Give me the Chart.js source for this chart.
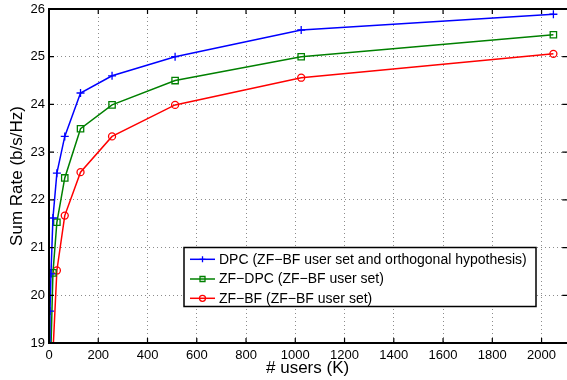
<!DOCTYPE html>
<html>
<head>
<meta charset="utf-8">
<script src="https://cdn.jsdelivr.net/npm/chart.js@4/dist/chart.umd.min.js"></script>
<style>
html,body{margin:0;padding:0;background:#fff;overflow:hidden;}
#wrap{position:relative;width:567px;height:380px;overflow:hidden;}
#rateChart{position:absolute;left:0;top:0;}
</style>
</head>
<body>
<div id="wrap"><canvas id="rateChart" width="572" height="380"></canvas></div>
<script>
// number of users K
var users=[2,4,8,16,32,64,128,256,512,1024,2048];
// sum rate (b/s/Hz) per scheme
var dpcRate=[18.6,19.67,20.45,21.62,22.56,23.33,24.24,24.6,25.0,25.56,25.89];
var zfdpcRate=[17.4,18.3,18.9,20.47,21.53,22.46,23.49,23.99,24.5,25.0,25.46];
var zfbfRate=[16.2,17.2,18.2,18.8,20.52,21.67,22.58,23.33,23.99,24.56,25.06];
var seriesNames=['DPC (ZF\u2212BF user set and orthogonal hypothesis)','ZF\u2212DPC (ZF\u2212BF user set)','ZF\u2212BF (ZF\u2212BF user set)'];
var xTicks=[0,200,400,600,800,1000,1200,1400,1600,1800,2000];
var yTicks=[19,20,21,22,23,24,25,26];

var FONT='"Liberation Sans", Arial, Helvetica, sans-serif';
Chart.defaults.font.family=FONT;
Chart.defaults.color='#000';

function toPoints(vals){
    return users.map(function(k,i){ return {x:k,y:vals[i]}; });
}

function makeSet(label,vals,color,style,radius){
    return {
        label:label,
        data:toPoints(vals),
        borderColor:color,
        backgroundColor:'rgba(0,0,0,0)',
        borderWidth:1.5,
        pointStyle:style,
        pointRadius:radius,
        pointBorderWidth:1.3,
        pointBorderColor:color,
        pointBackgroundColor:'rgba(0,0,0,0)',
        showLine:true,
        tension:0
    };
}

// axes box with inward ticks, like the matlab figure
var boxPlugin={
    id:'boxPlugin',
    afterDatasetsDraw:function(chart){
        var ctx=chart.ctx, a=chart.chartArea;
        var xs=chart.scales.x, ys=chart.scales.y;
        ctx.save();
        ctx.strokeStyle='#000';
        ctx.lineWidth=1.2;
        ctx.beginPath();
        xTicks.forEach(function(v){
            var px=xs.getPixelForValue(v);
            ctx.moveTo(px,a.bottom); ctx.lineTo(px,a.bottom-5);
            ctx.moveTo(px,a.top); ctx.lineTo(px,a.top+5);
        });
        yTicks.forEach(function(v){
            var py=ys.getPixelForValue(v);
            ctx.moveTo(a.left,py); ctx.lineTo(a.left+5,py);
            ctx.moveTo(a.right+1,py); ctx.lineTo(a.right-4,py);
        });
        ctx.stroke();
        // right side of the box sits just past the visible edge
        ctx.lineWidth=2;
        ctx.strokeRect(a.left,a.top,a.right-a.left+2,a.bottom-a.top);
        ctx.restore();
    },
    afterDraw:function(chart){
        // legend box
        var ctx=chart.ctx;
        var bx=184,by=247.5,bw=352,bh=59;
        ctx.save();
        ctx.fillStyle='#fff';
        ctx.fillRect(bx,by,bw,bh);
        ctx.strokeStyle='#000';
        ctx.lineWidth=1.5;
        ctx.strokeRect(bx,by,bw,bh);
        var rows=[259.3,279,298.3];
        ctx.font='14px '+FONT;
        ctx.textBaseline='middle';
        chart.data.datasets.forEach(function(ds,i){
            var y=rows[i];
            ctx.strokeStyle=ds.borderColor;
            ctx.lineWidth=1.5;
            ctx.beginPath();
            ctx.moveTo(190,y); ctx.lineTo(215,y);
            ctx.stroke();
            ctx.lineWidth=1.3;
            ctx.beginPath();
            var cx=202.5;
            if(ds.pointStyle=='cross'){
                ctx.moveTo(cx-3,y); ctx.lineTo(cx+3,y);
                ctx.moveTo(cx,y-3); ctx.lineTo(cx,y+3);
            }else if(ds.pointStyle=='rect'){
                ctx.rect(cx-2.5,y-2.5,5,5);
            }else{
                ctx.arc(cx,y,3,0,Math.PI*2);
            }
            ctx.stroke();
            ctx.fillStyle='#000';
            ctx.fillText(ds.label,219,y+0.5);
        });
        ctx.restore();
    }
};

var ctx=document.getElementById('rateChart').getContext('2d');
var rateChart=new Chart(ctx,{
    type:'scatter',
    data:{
        datasets:[
            makeSet(seriesNames[0],dpcRate,'#0000ff','cross',4),
            makeSet(seriesNames[1],zfdpcRate,'#008000','rect',4.5),
            makeSet(seriesNames[2],zfbfRate,'#ff0000','circle',3.5)
        ]
    },
    options:{
        responsive:false,
        animation:false,
        layout:{padding:{top:9,right:0,left:0,bottom:0}},
        plugins:{legend:{display:false},tooltip:{enabled:false}},
        scales:{
            x:{
                type:'linear',
                min:0,max:2100,
                afterBuildTicks:function(scale){
                    scale.ticks=xTicks.map(function(v){return {value:v};});
                },
                afterFit:function(scale){
                    scale.height=37;
                    scale.paddingRight=0;
                    scale.paddingLeft=0;
                },
                ticks:{
                    font:{size:13},
                    padding:5,
                    maxRotation:0,
                    callback:function(v){ return String(v); }
                },
                grid:{color:'rgba(0,0,0,0.45)',lineWidth:1,drawTicks:false},
                border:{display:false,dash:[1,3]},
                title:{display:true,text:'# users (K)',font:{size:17},padding:{top:0,bottom:1}}
            },
            y:{
                type:'linear',
                min:19,max:26,
                afterBuildTicks:function(scale){
                    scale.ticks=yTicks.map(function(v){return {value:v};});
                },
                afterFit:function(scale){
                    scale.width=49;
                    scale.paddingTop=0;
                    scale.paddingBottom=0;
                },
                ticks:{
                    font:{size:13},
                    padding:4,
                    callback:function(v){ return String(v); }
                },
                grid:{color:'rgba(0,0,0,0.45)',lineWidth:1,drawTicks:false},
                border:{display:false,dash:[1,3]},
                title:{display:true,text:'Sum Rate (b/s/Hz)',font:{size:17},padding:{top:7,bottom:0}}
            }
        }
    },
    plugins:[boxPlugin]
});
</script>
</body>
</html>
